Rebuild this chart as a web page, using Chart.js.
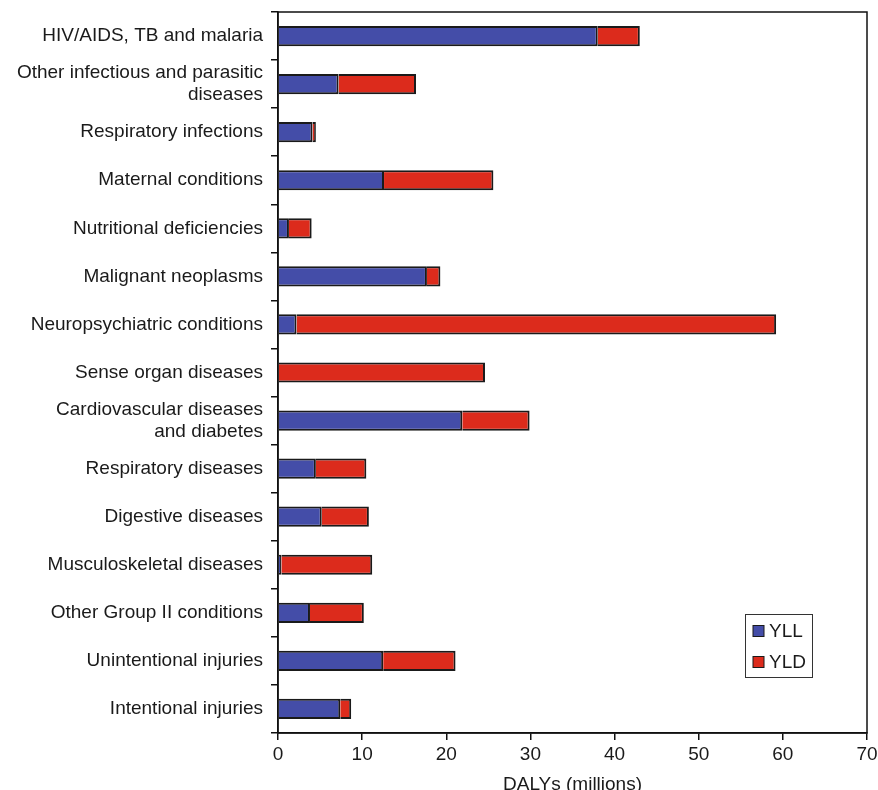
<!DOCTYPE html>
<html>
<head>
<meta charset="utf-8">
<title>DALYs by cause</title>
<script src="https://cdn.jsdelivr.net/npm/chart.js@4/dist/chart.umd.min.js"></script>
<style>
  html, body { margin: 0; padding: 0; background: #ffffff; }
  #wrap { width: 878px; height: 790px; position: relative; }
</style>
</head>
<body>
<div id="wrap"><canvas id="chart" width="878" height="790"></canvas></div>
<script>
// Cause groups (multi-line labels as arrays)
const categories = [
  'HIV/AIDS, TB and malaria',
  ['Other infectious and parasitic', 'diseases'],
  'Respiratory infections',
  'Maternal conditions',
  'Nutritional deficiencies',
  'Malignant neoplasms',
  'Neuropsychiatric conditions',
  'Sense organ diseases',
  ['Cardiovascular diseases', 'and diabetes'],
  'Respiratory diseases',
  'Digestive diseases',
  'Musculoskeletal diseases',
  'Other Group II conditions',
  'Unintentional injuries',
  'Intentional injuries'
];

// Years of life lost (millions)
const yll = [38.0, 7.2, 4.1, 12.6, 1.3, 17.7, 2.2, 0.0, 21.9, 4.5, 5.2, 0.4, 3.8, 12.5, 7.4];

// Years lived with disability (millions)
const yld = [5.0, 9.2, 0.4, 13.0, 2.7, 1.6, 57.0, 24.6, 8.0, 6.0, 5.6, 10.8, 6.4, 8.6, 1.3];

const seriesNames = ['YLL', 'YLD'];
const xTicks = [0, 10, 20, 30, 40, 50, 60, 70];

const FONT = "'Liberation Sans', Arial, Helvetica, sans-serif";
const BLUE = '#444DA8';
const RED = '#DC2B1C';
const EDGE = '#1a1a1a';

// Frame around the plotting area plus the boxed legend in its lower right
const framePlugin = {
  id: 'frameAndLegend',
  afterDraw(chart) {
    const { ctx, chartArea: a } = chart;
    ctx.save();
    ctx.strokeStyle = '#111';
    ctx.lineWidth = 1.5;
    ctx.strokeRect(a.left, a.top, a.right - a.left, a.bottom - a.top);

    // legend box
    const w = 67, h = 63;
    const bx = a.right - 55 - w;
    const by = a.bottom - 56 - h;
    ctx.fillStyle = '#fff';
    ctx.fillRect(bx, by, w, h);
    ctx.strokeStyle = '#333';
    ctx.lineWidth = 1;
    ctx.strokeRect(bx + 0.5, by + 0.5, w, h);

    ctx.font = '19px ' + FONT;
    ctx.textBaseline = 'middle';
    ctx.textAlign = 'left';
    chart.data.datasets.forEach((ds, i) => {
      const cy = by + 17 + i * 31;
      ctx.fillStyle = ds.backgroundColor;
      ctx.fillRect(bx + 8, cy - 5.5, 11, 11);
      ctx.strokeStyle = EDGE;
      ctx.lineWidth = 1;
      ctx.strokeRect(bx + 8, cy - 5.5, 11, 11);
      ctx.fillStyle = '#1a1a1a';
      ctx.fillText(ds.label, bx + 24, cy + 1);
    });
    ctx.restore();
  }
};

new Chart(document.getElementById('chart'), {
  type: 'bar',
  data: {
    labels: categories,
    datasets: [
      { label: seriesNames[0], data: yll, backgroundColor: BLUE },
      { label: seriesNames[1], data: yld, backgroundColor: RED }
    ]
  },
  options: {
    indexAxis: 'y',
    responsive: false,
    animation: false,
    devicePixelRatio: 1,
    layout: { padding: { top: 12, right: 11, left: 0, bottom: 0 } },
    datasets: {
      bar: {
        borderColor: EDGE,
        borderWidth: 2,
        categoryPercentage: 1,
        barPercentage: 0.42
      }
    },
    plugins: {
      legend: { display: false },
      tooltip: { enabled: false }
    },
    scales: {
      x: {
        stacked: true,
        min: 0,
        max: 70,
        afterBuildTicks(scale) {
          scale.ticks = xTicks.map(v => ({ value: v }));
        },
        afterFit(scale) {
          scale.height = 57;
          scale.paddingLeft = 0;
          scale.paddingRight = 0;
        },
        border: { display: true, color: '#111', width: 1.5 },
        grid: {
          drawOnChartArea: false,
          drawTicks: true,
          tickLength: 7,
          color: '#111',
          lineWidth: 1.5
        },
        ticks: {
          padding: 3,
          color: '#1a1a1a',
          font: { family: FONT, size: 19 },
          maxRotation: 0
        },
        title: {
          display: true,
          text: 'DALYs (millions)',
          color: '#1a1a1a',
          font: { family: FONT, size: 19, lineHeight: 1 },
          padding: { top: 0, bottom: -4 }
        }
      },
      y: {
        stacked: true,
        afterFit(scale) {
          scale.width = 278;
          scale.paddingTop = 0;
          scale.paddingBottom = 0;
        },
        border: { display: true, color: '#111', width: 1.5 },
        grid: {
          offset: true,
          drawOnChartArea: false,
          drawTicks: true,
          tickLength: 7,
          color: '#111',
          lineWidth: 1.5
        },
        ticks: {
          padding: 8,
          color: '#1a1a1a',
          font: { family: FONT, size: 19, lineHeight: 1.17 },
          autoSkip: false
        }
      }
    }
  },
  plugins: [framePlugin]
});
</script>
</body>
</html>
